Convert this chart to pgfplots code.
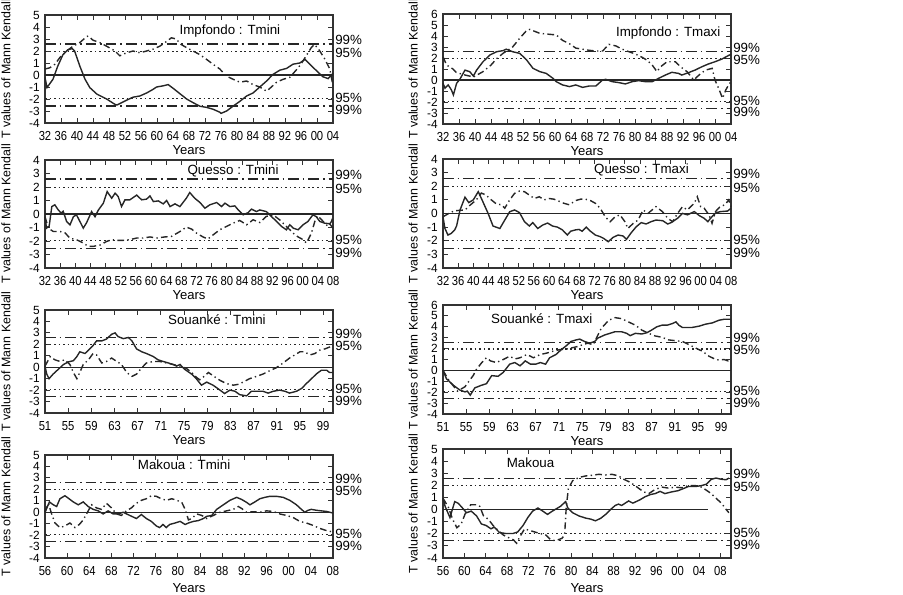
\documentclass[border=0pt]{standalone}
\usepackage{fontspec}
\setmainfont{Liberation Sans}
\newfontfamily\tickfont[FakeStretch=0.86]{Liberation Sans}
\usepackage{pgfplots}
\pgfplotsset{compat=1.18}

\pgfplotsset{
  mk/.style={
    scale only axis, width=216pt, clip=false,
    axis line style={line width=1.2pt, black!80},
    tick style={line width=0.7pt, black!80},
    major tick length=3.5pt,
    ytick distance=1, ymin=-4,
    /pgf/number format/assume math mode=true,
    xticklabel style={font=\tickfont\fontsize{9.8}{10}\selectfont, inner sep=0.4pt, yshift=-5.8pt},
    yticklabel style={font=\fontsize{8.9}{9}\selectfont, inner sep=0pt, xshift=-3.8pt},
    xlabel={Years},
    xlabel style={font=\fontsize{9.8}{11}\selectfont, anchor=center,
      at={(axis description cs:0.5,0)}, yshift=-20.25pt},
    ylabel={T values of Mann Kendall},
    ylabel style={font=\fontsize{9.3}{11}\selectfont, anchor=center},
  },
  lft/.style={ylabel style={at={(axis description cs:-0.1354,0.5)}}},
  rgt/.style={ylabel style={at={(axis description cs:-0.1038,0.5)}}},
  pu/.style={line width=1.05pt, black!85},
  pr/.style={line width=1.05pt, black!85, dash pattern=on 5pt off 2.5pt on 1pt off 2.5pt},
  s99/.style={line width=1pt, black!85, dash pattern=on 8pt off 3pt on 1.2pt off 3pt},
  s95/.style={line width=1pt, black!85, dash pattern=on 1.2pt off 2.2pt},
  s0/.style={line width=1pt, black!85},
}
\tikzset{
  pct/.style={anchor=west, inner sep=0pt, xshift=1.5pt, font=\fontsize{10}{11}\selectfont},
  ttl/.style={font=\fontsize{10}{12}\selectfont},
}

% threshold lines and their labels, #1 = xmin, #2 = xmax
\newcommand{\thr}[2]{%
  \addplot[s99] coordinates {(#1,2.58) (#2,2.58)};
  \addplot[s95] coordinates {(#1,1.96) (#2,1.96)};
  \addplot[s95] coordinates {(#1,-1.96) (#2,-1.96)};
  \addplot[s99] coordinates {(#1,-2.58) (#2,-2.58)};
  \node[pct, yshift=3pt] at (axis cs:#2,2.58) {99\%};
  \node[pct, yshift=-1pt] at (axis cs:#2,1.96) {95\%};
  \node[pct, yshift=0.5pt] at (axis cs:#2,-1.96) {95\%};
  \node[pct, yshift=-3pt] at (axis cs:#2,-2.58) {99\%};
}

\begin{document}
\begin{tikzpicture}
\useasboundingbox (0,0) rectangle (677.25pt,-446.25pt);

% ---------------- Impfondo Tmini
\begin{axis}[mk, lft, at={(33.75pt,-92.25pt)}, anchor=south west, height=81pt,
  xmin=1932, xmax=2004, ymax=5,
  xtick={1932,1936,...,2004},
  xticklabels={32,36,40,44,48,52,56,60,64,68,72,76,80,84,88,92,96,00,04}]
\thr{1932}{2004}
\addplot[s0] coordinates {(1932,0) (2004,0)};
\addplot[pu] coordinates {(1932,-0.2) (1932.5,-1.05) (1934,-0.35) (1935.2,0.75) (1936.5,1.7) (1937.7,2.1) (1938.8,2.2) (1939.4,2.0) (1940.7,0.75) (1942,-0.35) (1943.2,-1.05) (1945,-1.6) (1947.4,-2.0) (1949.5,-2.45) (1950,-2.5) (1952.4,-2.1) (1954,-1.85) (1955.7,-1.75) (1957.4,-1.5) (1959,-1.2) (1959.9,-1.0) (1961.6,-0.9) (1962.8,-0.8) (1964,-1.1) (1965.7,-1.55) (1967.4,-2.0) (1969,-2.3) (1970.7,-2.6) (1972.4,-2.7) (1974,-2.85) (1975.7,-3.1) (1976,-3.2) (1977.4,-3.0) (1979,-2.6) (1980.7,-2.2) (1982.4,-1.75) (1984,-1.5) (1985.7,-1.0) (1987.4,-0.5) (1989,0.05) (1990.7,0.4) (1992.4,0.55) (1994,0.9) (1995.7,1.0) (1997,1.3) (1998.2,0.9) (1999.9,0.35) (2001.5,-0.15) (2002.8,-0.3) (2004,0.15)};
\addplot[pr] coordinates {(1932,0.5) (1933.2,0.6) (1934.5,0.9) (1935.7,1.45) (1937.4,2.0) (1939,2.4) (1940.7,2.7) (1942.4,3.2) (1942.8,3.25) (1944,2.9) (1945.7,2.7) (1947.4,2.4) (1949.5,2.0) (1950.7,1.6) (1952.4,1.85) (1954,2.0) (1955.7,1.85) (1957.4,2.0) (1959,2.15) (1960.7,2.4) (1962.4,2.8) (1963.6,3.1) (1964.8,3.0) (1966,2.55) (1967.3,2.3) (1969,2.0) (1970.7,1.7) (1972.4,1.3) (1974,0.9) (1975.7,0.5) (1977.4,-0.1) (1979,-0.35) (1980.7,-0.6) (1982.4,-0.5) (1984,-0.8) (1985.7,-1.0) (1987.4,-1.35) (1988.6,-1.0) (1989.9,-0.6) (1991.6,-0.35) (1993.2,-0.2) (1994.9,0.45) (1996,0.9) (1997.3,1.6) (1998.6,2.3) (1999.4,2.55) (2000.7,2.0) (2002,1.3) (2003.2,0.5) (2004,-0.9)};
\node[ttl] at (rel axis cs:0.642,0.852) {Impfondo : Tmini};
\end{axis}

% ---------------- Impfondo Tmaxi
\begin{axis}[mk, rgt, at={(332.25pt,-93pt)}, anchor=south west, height=82.5pt,
  xmin=1932, xmax=2004, ymax=6,
  xtick={1932,1936,...,2004},
  xticklabels={32,36,40,44,48,52,56,60,64,68,72,76,80,84,88,92,96,00,04}]
\thr{1932}{2004}
\addplot[s0] coordinates {(1932,0) (2004,0)};
\addplot[pu] coordinates {(1932,-0.3) (1932.5,-0.75) (1933.3,-0.45) (1934.1,-0.9) (1934.6,-1.36) (1935.4,-0.3) (1936.2,0.06) (1937.5,0.9) (1938.7,0.75) (1939.6,0.36) (1940.4,0.9) (1942,1.66) (1943.7,2.27) (1945.4,2.57) (1947,2.67) (1947.8,2.8) (1949.4,2.57) (1951.2,2.42) (1952.9,1.82) (1954.5,1.06) (1956.2,0.76) (1957.8,0.6) (1959.5,0.15) (1960.3,-0.15) (1961.9,-0.45) (1963.6,-0.6) (1965.2,-0.45) (1966.9,-0.67) (1968.5,-0.55) (1970.2,-0.55) (1971.9,0) (1972.7,0.06) (1974.3,-0.15) (1976,-0.24) (1977.6,-0.36) (1979.3,-0.15) (1980.9,-0.06) (1982.6,-0.15) (1984.3,-0.15) (1985.9,0.15) (1987.6,0.45) (1989.2,0.7) (1990.9,0.6) (1991.7,0.45) (1993.4,0.67) (1995,0.9) (1996.7,1.2) (1998.3,1.45) (2000,1.66) (2001.7,1.9) (2003.6,2.27) (2004,2.3)};
\addplot[pr] coordinates {(1932,2.1) (1932.9,1.36) (1934.5,1.0) (1935.3,0.7) (1937,0.5) (1939.6,0.27) (1942,0.76) (1944,1.36) (1945.5,1.97) (1947,2.42) (1948.2,2.7) (1949.4,3.0) (1951.2,3.8) (1952.9,4.5) (1953.7,4.6) (1956.2,4.24) (1958.7,4.15) (1960.3,4.1) (1961.9,3.6) (1963.6,3.3) (1965.2,2.9) (1966.9,2.8) (1968.5,2.7) (1970.2,2.64) (1971.9,2.64) (1973.5,3.24) (1975.2,3.1) (1976.8,2.8) (1978.5,2.57) (1980.1,2.36) (1981.8,2.06) (1983,1.8) (1984.3,1.36) (1985.5,0.76) (1986.4,1.2) (1988,1.66) (1990.1,1.66) (1991.4,1.2) (1993,0.76) (1994.7,0) (1996,0.45) (1997.6,0.9) (1999.3,1.06) (2000,0) (2000.9,-0.76) (2001.9,-1.67) (2002.7,-0.9) (2003.4,-0.45) (2004,-0.15)};
\node[ttl] at (rel axis cs:0.782,0.827) {Impfondo : Tmaxi};
\end{axis}

% ---------------- Quesso Tmini
\begin{axis}[mk, lft, at={(33.75pt,-201pt)}, anchor=south west, height=81pt,
  xmin=1932, xmax=2008, ymax=4,
  xtick={1932,1936,...,2008},
  xticklabels={32,36,40,44,48,52,56,60,64,68,72,76,80,84,88,92,96,00,04,08}]
\thr{1932}{2008}
\addplot[s0] coordinates {(1932,0) (2008,0)};
\addplot[pu] coordinates {(1932,-0.2) (1932.4,-1.05) (1933.1,-0.9) (1933.8,0.55) (1934.6,0.68) (1935.5,0.3) (1936.3,0.06) (1936.8,0.2) (1937.7,-0.55) (1938.6,-0.8) (1939.5,-0.2) (1940.3,-0.06) (1941.2,-0.55) (1942.1,-1.05) (1943,-0.63) (1944.3,0.18) (1945.2,-0.2) (1946.1,0.3) (1947.4,0.8) (1948.4,1.66) (1949.6,1.17) (1950.5,1.54) (1951.3,1.3) (1952.2,0.55) (1953.1,1.05) (1954.4,1.05) (1956.2,1.4) (1957.5,1.05) (1958.8,1.1) (1959.7,1.34) (1960.6,0.92) (1961.9,0.97) (1963.2,0.75) (1964.1,1.0) (1965,0.55) (1966.3,0.75) (1967.6,0.55) (1969.3,1.17) (1970.2,1.59) (1971.5,1.17) (1972.9,0.85) (1974.2,0.43) (1975.5,0.68) (1977.3,0.85) (1978.6,0.55) (1979.5,0.8) (1980.8,0.55) (1982.1,0.6) (1983,0.3) (1984.3,-0.06) (1985.6,0.1) (1986.5,0.36) (1987.8,0.18) (1988.7,0.3) (1990.4,0.18) (1991.8,-0.2) (1993.1,-0.55) (1994.4,-0.92) (1995.7,-1.17) (1996.6,-0.8) (1997.5,-1.05) (1998.8,-1.17) (2000.1,-0.8) (2001.4,-0.55) (2002.7,-0.06) (2003.6,-0.2) (2004.5,-0.55) (2005.8,-0.68) (2007.1,-0.72) (2008,-1.05)};
\addplot[pr] coordinates {(1932,-0.2) (1932.9,-1.05) (1934.2,-1.3) (1936,-1.3) (1937.3,-1.4) (1938.6,-1.8) (1940.3,-1.9) (1942.1,-2.15) (1943.4,-2.4) (1944.7,-2.4) (1946.5,-2.3) (1948.3,-2.03) (1949.6,-1.9) (1950.9,-1.95) (1952.7,-1.95) (1954.4,-1.9) (1956.2,-1.78) (1957.9,-1.78) (1959.7,-1.7) (1961.4,-1.78) (1963.6,-1.7) (1965.4,-1.66) (1967.6,-1.3) (1969.3,-0.97) (1970.7,-1.12) (1972,-1.42) (1973.7,-1.7) (1975,-1.85) (1976.4,-1.54) (1978.1,-1.17) (1979.9,-0.92) (1981.6,-0.68) (1983.4,-0.48) (1985.2,-0.8) (1986.9,-0.43) (1988.7,-0.63) (1990.4,-0.18) (1992.2,-0.06) (1993.9,-0.43) (1995.7,-0.92) (1997.5,-1.42) (1998.8,-1.7) (2000.1,-1.9) (2001,-2.15) (2002.3,-1.42) (2003.2,-0.55) (2004,-0.13) (2005.4,-0.55) (2006.7,-0.92) (2007.6,-0.55) (2008,-0.18)};
\node[ttl] at (rel axis cs:0.653,0.898) {Quesso : Tmini};
\end{axis}

% ---------------- Quesso Tmaxi
\begin{axis}[mk, rgt, at={(332.25pt,-201pt)}, anchor=south west, height=81.75pt,
  xmin=1932, xmax=2008, ymax=4,
  xtick={1932,1936,...,2008},
  xticklabels={32,36,40,44,48,52,56,60,64,68,72,76,80,84,88,92,96,00,04,08}]
\thr{1932}{2008}
\addplot[s0] coordinates {(1932,0) (2008,0)};
\addplot[pu] coordinates {(1932,-0.24) (1932.5,-1.09) (1933.3,-1.58) (1934.2,-1.46) (1935.1,-1.2) (1935.6,-0.9) (1936.5,0.26) (1937.8,1.2) (1938.8,0.8) (1940,1.0) (1941.3,1.6) (1942.3,1.0) (1943.9,0.01) (1945.2,-0.92) (1947,-1.1) (1948.3,-0.48) (1949.6,0.13) (1950.9,0.26) (1952.2,0.06) (1953.5,-0.6) (1954.8,-0.92) (1955.7,-0.67) (1957,-1.1) (1958.3,-0.85) (1959.6,-0.7) (1960.9,-0.92) (1962.2,-1.0) (1963.5,-1.2) (1964.8,-1.58) (1965.7,-1.3) (1967,-1.2) (1967.9,-1.17) (1968.7,-1.3) (1969.8,-1.0) (1970.9,-1.3) (1972.2,-1.58) (1973.5,-1.7) (1974.4,-1.83) (1975.6,-2.07) (1976.9,-1.75) (1978.2,-1.58) (1979.5,-1.65) (1980.4,-1.9) (1981.7,-1.4) (1983,-0.97) (1984.3,-0.67) (1985.6,-0.77) (1986.9,-0.6) (1988.2,-0.48) (1990,-0.53) (1991.3,-0.77) (1992.2,-0.67) (1993.9,-0.35) (1995.2,0.01) (1996.5,-0.1) (1998.3,0.14) (1999.6,-0.15) (2000.9,-0.35) (2001.9,-0.6) (2002.6,-0.35) (2004,0.06) (2005.3,0.14) (2007.1,0.18) (2008,0.38)};
\addplot[pr] coordinates {(1932,-0.24) (1933.5,0.0) (1935,0.2) (1937.8,0.26) (1939.1,0.6) (1940.8,1.0) (1942.1,1.5) (1943.4,1.35) (1944.3,1.1) (1946.1,0.7) (1947.4,0.64) (1948.3,0.39) (1949.6,1.0) (1950.9,1.48) (1952.2,1.65) (1953.5,1.6) (1954.8,1.35) (1956.1,1.1) (1957.4,1.23) (1958.7,1.0) (1960,1.1) (1961.3,1.05) (1962.6,0.9) (1963.9,0.75) (1965.3,0.64) (1967,0.95) (1968.3,1.05) (1969.6,1.05) (1970.9,0.95) (1972.2,0.75) (1973.5,0.38) (1974.8,-0.24) (1976.1,-0.6) (1977.4,-0.24) (1978.7,-0.1) (1980,-0.6) (1980.8,-1.1) (1982.2,-0.72) (1983.5,-0.48) (1984.8,0.26) (1986.1,0.01) (1988.2,0.5) (1989.9,0.14) (1991.3,-0.35) (1992.6,-0.6) (1993.9,0.01) (1995.2,0.5) (1996.5,0.26) (1998.3,0.75) (1999.1,1.23) (2000,0.5) (2000.9,0.39) (2002.2,-0.1) (2003,-0.72) (2003.9,0.14) (2005.1,0.5) (2006.4,0.64) (2007.4,1.0) (2008,0.5)};
\node[ttl] at (rel axis cs:0.689,0.899) {Quesso : Tmaxi};
\end{axis}

% ---------------- Souanke Tmini
\begin{axis}[mk, lft, at={(33.75pt,-309.75pt)}, anchor=south west, height=77.25pt,
  xmin=1951, xmax=2000.7, ymax=5,
  xtick={1951,1955,...,1999},
  xticklabels={51,55,59,63,67,71,75,79,83,87,91,95,99}]
\thr{1951}{2000.7}
\addplot[s0] coordinates {(1951,0) (2000.7,0)};
\addplot[pu] coordinates {(1951,0.1) (1951.3,-0.6) (1951.7,-1.0) (1952.4,-0.6) (1953.3,-0.18) (1954.2,0.24) (1955,0.46) (1955.9,0.57) (1956.5,0.93) (1957,1.35) (1957.9,1.2) (1958.5,1.49) (1959.3,1.9) (1959.9,2.3) (1960.8,2.3) (1961.6,2.46) (1962.5,2.88) (1963.1,3.0) (1963.6,2.68) (1964.5,2.5) (1965.4,2.6) (1966,2.3) (1966.8,1.6) (1967.7,1.35) (1968.5,1.2) (1969.7,0.93) (1970.5,0.65) (1971.4,0.5) (1972.3,0.37) (1973.1,0.24) (1973.7,0.1) (1974.3,0.24) (1975.1,-0.18) (1976.3,-0.6) (1977.1,-1.0) (1978,-1.57) (1978.9,-1.3) (1980,-1.57) (1981.2,-2.0) (1982,-2.3) (1982.9,-2.0) (1983.8,-2.1) (1984.6,-2.4) (1985.8,-2.5) (1986.6,-2.1) (1987.5,-2.1) (1988.6,-2.1) (1989.5,-2.26) (1990.4,-2.1) (1991.5,-2.0) (1992.4,-2.1) (1993.2,-2.26) (1994.4,-2.1) (1995.3,-1.85) (1996.1,-1.43) (1997,-1.0) (1997.8,-0.6) (1998.7,-0.26) (1999.6,-0.26) (2000.1,-0.46) (2000.7,-0.46)};
\addplot[pr] coordinates {(1951,0.1) (1951.6,0.65) (1951.9,0.93) (1952.7,0.65) (1953.6,0.5) (1954.4,0.65) (1955.3,0.24) (1955.9,-0.46) (1956.5,-1.0) (1957,-0.46) (1957.6,0.24) (1958.5,0.65) (1959.3,1.2) (1959.9,1.07) (1960.8,0.37) (1961.6,0.5) (1962.5,0.8) (1963.4,0.5) (1964.2,0.24) (1965.1,-0.46) (1966,-0.8) (1966.8,-0.6) (1967.7,-0.05) (1968.5,0.37) (1969.7,0.5) (1970.8,0.5) (1972,0.37) (1973.1,0.24) (1974.3,0.1) (1975.4,-0.1) (1976.3,-0.46) (1977.1,-0.87) (1977.7,-1.1) (1978.3,-0.87) (1979.2,-0.46) (1980,-0.74) (1981.2,-1.15) (1982.3,-1.43) (1983.5,-1.57) (1984.3,-1.5) (1985.2,-1.3) (1986.3,-1.0) (1987.5,-0.8) (1988.6,-0.6) (1989.8,-0.3) (1990.9,-0.05) (1992.1,0.37) (1993.2,0.8) (1994.1,1.07) (1995,1.35) (1995.8,1.35) (1996.7,1.07) (1997.6,1.2) (1998.4,1.49) (1999.3,1.6) (2000.1,1.76) (2000.7,1.9)};
\node[ttl] at (rel axis cs:0.597,0.903) {Souanké : Tmini};
\end{axis}

% ---------------- Souanke Tmaxi
\begin{axis}[mk, rgt, at={(332.25pt,-310.5pt)}, anchor=south west, height=81.75pt,
  xmin=1951, xmax=2000.7, ymax=6,
  xtick={1951,1955,...,1999},
  xticklabels={51,55,59,63,67,71,75,79,83,87,91,95,99}]
\thr{1951}{2000.7}
\addplot[s0] coordinates {(1951,0) (2000.7,0)};
\addplot[pu] coordinates {(1951,0) (1951.6,-0.77) (1952.8,-1.37) (1953.9,-1.8) (1954.8,-1.97) (1955.2,-1.9) (1955.7,-2.27) (1956.5,-1.6) (1957.6,-1.37) (1958.5,-1.22) (1959.4,-0.48) (1960.5,-0.54) (1961.4,-0.18) (1962.5,0.57) (1963.4,0.72) (1964.3,0.42) (1965.2,0.87) (1966.1,0.57) (1967,0.57) (1967.8,0.72) (1968.7,0.57) (1969.4,1.16) (1970.5,1.46) (1971.4,1.9) (1972.3,2.27) (1973.1,2.66) (1974,2.8) (1974.6,2.87) (1975.4,2.66) (1976.3,2.5) (1977.2,2.66) (1977.7,2.96) (1978.9,3.25) (1979.8,3.4) (1980.7,3.55) (1981.8,3.55) (1982.7,3.4) (1983.3,3.19) (1984.2,3.4) (1985.3,3.34) (1986.2,3.46) (1987,3.7) (1987.9,4.0) (1988.8,4.15) (1989.7,4.15) (1990.6,4.3) (1991.2,4.45) (1991.7,4.15) (1992.3,3.94) (1993.2,3.94) (1994,3.94) (1995.2,4.06) (1996.3,4.24) (1997.5,4.36) (1998.6,4.6) (1999.5,4.69) (2000.7,4.69)};
\addplot[pr] coordinates {(1951,0) (1952,-0.9) (1953.5,-1.9) (1954.8,-1.5) (1955.6,-0.9) (1956.2,-0.48) (1956.8,0.12) (1957.7,0.72) (1958.5,1.16) (1959.2,0.87) (1960.2,0.72) (1961.4,1.0) (1962.5,1.3) (1963.4,1.05) (1964.3,1.16) (1965.5,1.46) (1966.6,1.16) (1967.8,1.46) (1969,1.6) (1969.9,1.75) (1971.1,1.9) (1972.3,1.96) (1973.1,2.05) (1974.3,2.2) (1975.1,2.35) (1976,2.5) (1976.9,2.35) (1977.6,3.1) (1978.3,3.85) (1979.6,4.6) (1980.7,4.84) (1981.8,4.75) (1983,4.45) (1984.2,4.15) (1985.3,3.7) (1986.5,3.4) (1987.6,3.16) (1988.8,3.04) (1989.9,2.8) (1991.2,2.72) (1992.3,2.66) (1993.5,2.35) (1994.6,2.05) (1995.8,1.75) (1996.9,1.3) (1998.1,1.0) (1998.7,0.95) (1999.5,1.0) (2000.2,0.87) (2000.7,1.0)};
\node[ttl] at (rel axis cs:0.343,0.872) {Souanké : Tmaxi};
\end{axis}

% ---------------- Makoua Tmini
\begin{axis}[mk, lft, at={(33.75pt,-418.5pt)}, anchor=south west, height=77.25pt,
  xmin=1956, xmax=2008, ymax=5,
  xlabel style={yshift=-2.5pt},
  xtick={1956,1960,...,2008},
  xticklabels={56,60,64,68,72,76,80,84,88,92,96,00,04,08}]
\thr{1956}{2008}
\addplot[s0] coordinates {(1956,0) (2008,0)};
\addplot[pu] coordinates {(1956,0) (1956.8,0.9) (1957.5,0.65) (1958.1,0.5) (1958.7,1.18) (1959.6,1.44) (1960.2,1.23) (1961.1,0.9) (1962,0.65) (1962.9,0.9) (1963.8,0.5) (1964.7,0.25) (1965.6,0.12) (1966.5,-0.15) (1967.4,0.12) (1968.3,-0.15) (1969.2,-0.15) (1970.1,0) (1971.3,-0.28) (1972.5,-0.55) (1973.4,-0.2) (1974.3,-0.55) (1975.2,-0.8) (1976.1,-1.2) (1976.7,-1.34) (1977.3,-1.07) (1977.9,-1.34) (1978.5,-1.07) (1979.5,-0.94) (1980.4,-0.8) (1981.3,-1.07) (1981.9,-0.94) (1982.8,-0.8) (1983.7,-0.73) (1984.6,-0.55) (1985.2,-0.36) (1986.1,-0.28) (1987,0.25) (1988.2,0.65) (1989.4,1.04) (1990.6,1.3) (1991.5,1.12) (1992.4,0.86) (1993,0.65) (1993.9,0.9) (1994.8,1.18) (1995.7,1.3) (1996.6,1.39) (1997.8,1.39) (1999,1.3) (2000.2,1.04) (2001.4,0.65) (2002.3,0.25) (2002.9,0) (2003.5,0.17) (2004.1,0.25) (2005,0.17) (2005.9,0.12) (2006.8,0.07) (2008,-0.07)};
\addplot[pr] coordinates {(1956,0) (1956.6,0.78) (1957.2,-0.15) (1957.8,-0.94) (1958.7,-1.34) (1959.6,-1.2) (1960.5,-0.94) (1961.4,-1.34) (1962.2,-1.07) (1962.9,-0.67) (1963.5,-0.15) (1964.4,0.65) (1965.3,0.38) (1966.2,0.25) (1967.1,0.78) (1968,0.38) (1968.9,-0.15) (1969.8,-0.28) (1970.7,0.12) (1971.6,0.38) (1972.5,0.78) (1973.4,1.04) (1974.3,1.18) (1975.2,1.44) (1976.1,1.39) (1977,1.18) (1977.9,1.04) (1978.9,1.18) (1979.8,1.04) (1980.7,0.86) (1981.3,0.25) (1981.9,-0.67) (1982.5,-0.55) (1983.4,-0.15) (1984.3,-0.28) (1985.2,-0.55) (1986.4,-0.28) (1987.6,0) (1988.8,0.12) (1990,0.25) (1990.9,0.5) (1991.5,0.33) (1992.4,0) (1993.6,0.04) (1994.8,0) (1996,0.12) (1997.2,0.07) (1998.4,-0.15) (1999.6,-0.28) (2000.8,-0.46) (2002,-0.8) (2003.2,-0.94) (2004.4,-1.15) (2005.6,-1.41) (2006.8,-1.6) (2008,-1.73)};
\node[ttl] at (rel axis cs:0.483,0.903) {Makoua : Tmini};
\end{axis}

% ---------------- Makoua
\begin{axis}[mk, rgt, at={(332.25pt,-418.5pt)}, anchor=south west, height=81.75pt,
  xmin=1956, xmax=2010, ymax=5,
  xlabel style={yshift=-2.5pt},
  xtick={1956,1960,...,2008},
  xticklabels={56,60,64,68,72,76,80,84,88,92,96,00,04,08}]
\thr{1956}{2010}
\addplot[s0] coordinates {(1956,0) (2005.6,0)};
\addplot[pu] coordinates {(1956,0.93) (1956.4,0.26) (1957.3,-0.66) (1958.2,0.66) (1958.8,0.53) (1959.4,0.26) (1960.4,-0.26) (1961.3,-0.13) (1962.3,-0.53) (1963.2,-1.19) (1964.1,-1.32) (1965,-1.59) (1965.6,-1.45) (1966.6,-1.9) (1967.8,-1.98) (1969.1,-1.98) (1970,-1.85) (1971,-1.32) (1971.9,-0.66) (1972.8,-0.13) (1973.8,0.13) (1974.7,-0.13) (1975.6,-0.4) (1976.5,-0.13) (1977.5,0.13) (1978,0.26) (1979,0.66) (1979.4,0.13) (1980.3,-0.26) (1981.5,-0.53) (1982.8,-0.71) (1983.7,-0.79) (1984.6,-0.93) (1985.6,-0.71) (1986.5,-0.4) (1987.4,0) (1988.3,0.34) (1988.9,0.45) (1989.5,0.34) (1990.8,0.71) (1991.6,0.53) (1992.9,0.8) (1993.9,1.06) (1994.9,1.24) (1995.8,1.32) (1996.7,1.5) (1997.6,1.32) (1998.9,1.46) (2000.1,1.56) (2001,1.72) (2002,1.9) (2003.3,1.9) (2004.5,1.98) (2005.4,2.1) (2006.3,2.5) (2007.2,2.6) (2008.2,2.5) (2009.1,2.46) (2009.6,2.6)};
\addplot[pr] coordinates {(1956,0.93) (1957,0.2) (1957.8,-0.8) (1958.6,-1.5) (1959.4,-1.2) (1960.2,-0.3) (1961.2,0.4) (1962.3,0.4) (1962.9,0.26) (1963.6,-0.53) (1964.5,-0.8) (1965.4,-1.32) (1966.3,-1.72) (1967.3,-2.1) (1968.2,-2.3) (1969.2,-2.5) (1969.8,-2.78) (1970.4,-2.25) (1971.3,-1.59) (1972.2,-1.72) (1973.2,-1.85) (1974.2,-1.98) (1975.3,-2.1) (1976.2,-2.5) (1977.1,-2.57) (1978.3,-2.38) (1978.8,-2.1) (1979.1,0.13) (1979.5,1.72) (1980.3,2.38) (1981.5,2.65) (1982.8,2.78) (1984,2.83) (1985.2,2.91) (1986.5,2.86) (1987.7,2.91) (1988.9,2.78) (1989.9,2.5) (1991.1,2.25) (1992.4,1.85) (1993.6,1.46) (1994.6,1.32) (1995.8,1.67) (1997.1,1.85) (1998.3,1.77) (1999.6,1.85) (2000.8,1.8) (2002,1.98) (2003.3,1.98) (2004.5,1.85) (2005.4,1.59) (2006.3,1.32) (2007.2,0.93) (2008.2,0.53) (2009.1,0) (2009.6,-0.26)};
\node[ttl] at (rel axis cs:0.304,0.872) {Makoua};
\end{axis}
\end{tikzpicture}
\end{document}
